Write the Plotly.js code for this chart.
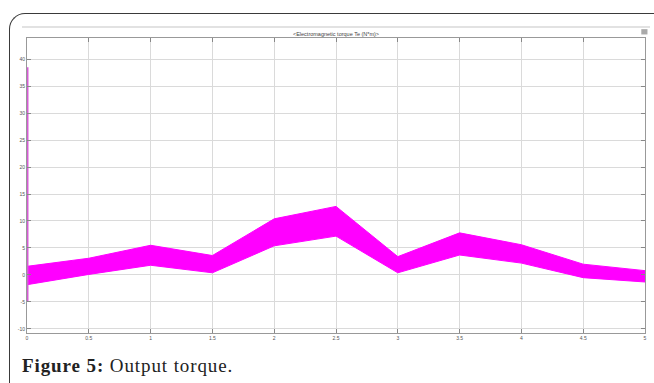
<!DOCTYPE html>
<html>
<head>
<meta charset="utf-8">
<script src="https://cdn.plot.ly/plotly-3.0.1.min.js"></script>
<style>
  html, body { margin:0; padding:0; width:654px; height:383px; overflow:hidden; background:#fff; }
  #frame { position:absolute; left:9px; top:13px; width:720px; height:420px;
           border-top:1.5px solid #3a3a3a; border-left:1.5px solid #3a3a3a;
           border-top-left-radius:16px; box-sizing:border-box; }
  #bar { position:absolute; left:22px; top:26px; width:628px; height:2px; background:#e2e2e2; }
  #chart { position:absolute; left:0; top:0; width:654px; height:383px; }
  #caption { position:absolute; left:22px; top:355px; font-family:"Liberation Serif","DejaVu Serif",serif;
             font-size:19px; letter-spacing:0.9px; color:#222; white-space:nowrap; }
</style>
</head>
<body>
<div id="frame"></div>
<div id="bar"></div>
<div id="chart"></div>
<div id="caption"><b>Figure 5:</b> Output torque.</div>
<script>
// Envelope of the torque band (N*m)
const time      = [0,    0.5, 1,   1.5, 2,    2.5,  3,   3.5, 4,   4.5, 5];
const torqueMax = [1.6,  3.1, 5.5, 3.6, 10.4, 12.7, 3.4, 7.8, 5.6, 2.0, 0.8];
const torqueMin = [-1.8, 0.1, 1.8, 0.4, 5.4,  7.2,  0.4, 3.7, 2.2, -0.5, -1.3];
// Start-up transient just after t = 0
const startTime   = [0.006, 0.006];
const startTorque = [38.5, -5];

const xTicks = [0, 0.5, 1, 1.5, 2, 2.5, 3, 3.5, 4, 4.5, 5];
const yTicks = [-10, -5, 0, 5, 10, 15, 20, 25, 30, 35, 40];
const titleText = "<Electromagnetic torque Te (N*m)>";

const magenta = "#ff00ff";
const data = [
  { x: time, y: torqueMin, type: "scatter", mode: "lines",
    line: { color: magenta, width: 1 }, hoverinfo: "skip", showlegend: false },
  { x: time, y: torqueMax, type: "scatter", mode: "lines", fill: "tonexty",
    fillcolor: magenta, line: { color: magenta, width: 1 }, showlegend: false },
  { x: startTime, y: startTorque, type: "scatter", mode: "lines",
    line: { color: "#d65cd6", width: 1.5 }, showlegend: false }
];

const tickFont = { family: "Liberation Sans, Arial, sans-serif", size: 5, color: "#555" };
const layout = {
  width: 654, height: 383,
  margin: { l: 27, r: 9, t: 38, b: 50 },
  paper_bgcolor: "rgba(0,0,0,0)",
  plot_bgcolor: "#ffffff",
  showlegend: false,
  title: { text: titleText.replace("<", "&lt;").replace(">", "&gt;"),
           font: { family: "Liberation Sans, Arial, sans-serif", size: 5.5, color: "#444" },
           x: 0.5, xref: "paper", y: 1 - 34 / 383, yref: "container", yanchor: "middle" },
  xaxis: {
    range: [0, 5], tickvals: xTicks, ticktext: xTicks.map(String),
    ticks: "inside", ticklen: 4, tickcolor: "#888", tickfont: tickFont,
    showgrid: true, gridcolor: "#dadada", gridwidth: 1,
    showline: true, linecolor: "#999", linewidth: 1, mirror: "ticks",
    zeroline: false, fixedrange: true
  },
  yaxis: {
    range: [-10.75, 43.9], tickvals: yTicks, ticktext: yTicks.map(String),
    ticks: "inside", ticklen: 4, tickcolor: "#888", tickfont: tickFont,
    showgrid: true, gridcolor: "#dadada", gridwidth: 1,
    showline: true, linecolor: "#999", linewidth: 1, mirror: "ticks",
    zeroline: false, fixedrange: true
  },
  shapes: [
    { type: "rect", xref: "paper", yref: "paper", x0: 0.994, x1: 1.004, y0: 1.012, y1: 1.03,
      fillcolor: "#aaa", line: { width: 0 } }
  ]
};
Plotly.newPlot("chart", data, layout, { displayModeBar: false, staticPlot: true });
</script>
</body>
</html>
